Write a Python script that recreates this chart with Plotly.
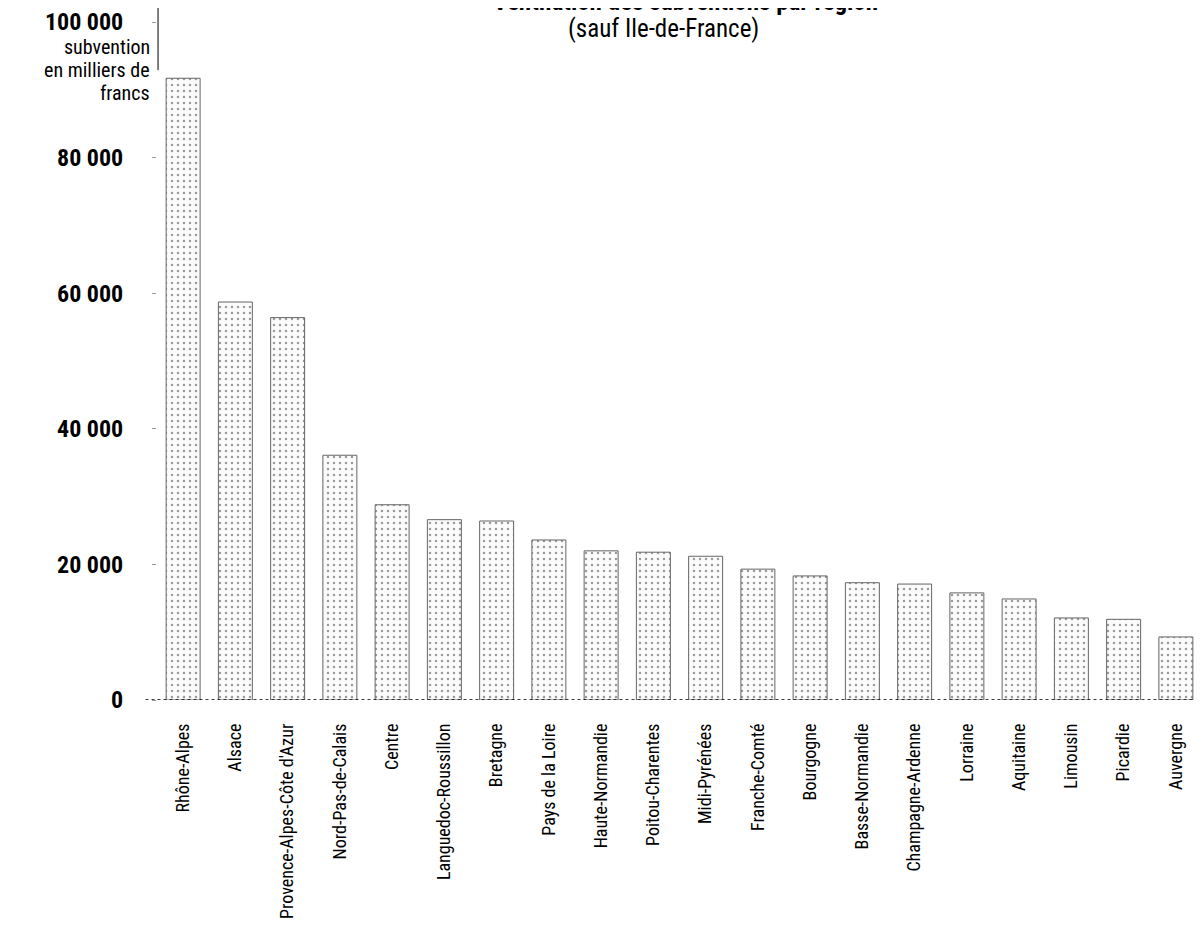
import plotly.graph_objects as go

regions = ["Rhône-Alpes", "Alsace", "Provence-Alpes-Côte d'Azur", "Nord-Pas-de-Calais",
           "Centre", "Languedoc-Roussillon", "Bretagne", "Pays de la Loire",
           "Haute-Normandie", "Poitou-Charentes", "Midi-Pyrénées", "Franche-Comté",
           "Bourgogne", "Basse-Normandie", "Champagne-Ardenne", "Lorraine",
           "Aquitaine", "Limousin", "Picardie", "Auvergne"]
subventions = [91700, 58700, 56400, 36100, 28800, 26600, 26400, 23600,
               22000, 21800, 21200, 19300, 18300, 17300, 17100, 15800,
               14900, 12100, 11900, 9300]
y_ticks = [0, 20000, 40000, 60000, 80000, 100000]
y_tick_labels = ["0", "20 000", "40 000", "60 000", "80 000", "100 000"]
y_title_lines = ["subvention", "en milliers de", "francs"]

FONT = "Roboto Condensed, Open Sans Condensed, DejaVu Sans Condensed, sans-serif"

fig = go.Figure(go.Bar(
    x=regions, y=subventions, width=0.65,
    marker=dict(color="white",
                pattern=dict(shape=".", fgcolor="#3a3a3a", bgcolor="#fbfbfb",
                             size=6, solidity=0.13),
                line=dict(color="#666666", width=1)),
))

fig.update_layout(
    width=1194, height=915,
    margin=dict(l=149, r=0, t=14, b=223),
    plot_bgcolor="white", paper_bgcolor="white",
    showlegend=False,
    font=dict(family=FONT, color="black"),
)
fig.update_xaxes(range=[-0.5, len(regions) - 0.5], tickangle=-90,
                 tickfont=dict(size=18, family=FONT), ticks="", showline=False,
                 showgrid=False, ticklabelstandoff=19, automargin=False)
fig.update_yaxes(range=[0, 100000], tickvals=y_ticks, ticktext=y_tick_labels,
                 tickfont=dict(size=24, family=FONT, weight="bold"), ticks="outside", ticklen=4,
                 tickcolor="#999999", showgrid=False, showline=False, zeroline=False,
                 ticklabelstandoff=24, automargin=False, ticklabeloverflow="allow")

# dotted baseline
fig.add_shape(type="line", xref="paper", yref="y", x0=-0.011, x1=1, y0=0, y1=0,
              line=dict(color="black", width=1.5, dash="dot"))
# fragment of vertical axis at top
fig.add_shape(type="line", xref="paper", yref="paper", x0=0.001, x1=0.001, y0=0.929, y1=1.03,
              line=dict(color="black", width=1))

for i, line in enumerate(y_title_lines):
    fig.add_annotation(xref="paper", yref="paper", x=-0.0045, y=0.9631 - i * 0.0339,
                       xanchor="right", yanchor="middle", text=line, showarrow=False,
                       font=dict(size=20, family=FONT))
fig.add_annotation(xref="paper", yref="paper", x=0.506, y=1.0295, xanchor="center", yanchor="middle",
                   text="<b>Ventilation des subventions par région</b>", showarrow=False,
                   font=dict(size=25, family=FONT))
fig.add_annotation(xref="paper", yref="paper", x=0.485, y=0.991, xanchor="center", yanchor="middle",
                   text="(sauf Ile-de-France)", showarrow=False,
                   font=dict(size=25, family=FONT))

fig.write_html("out.html")
